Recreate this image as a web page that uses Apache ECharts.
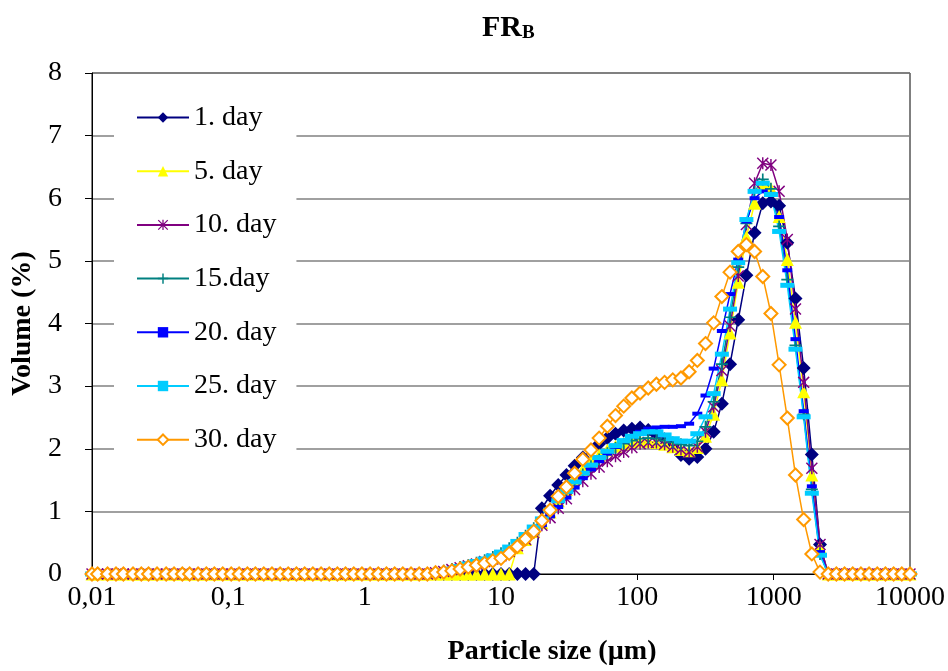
<!DOCTYPE html>
<html>
<head>
<meta charset="utf-8">
<script src="https://cdn.jsdelivr.net/npm/echarts@6/dist/echarts.min.js"></script>
<style>
html,body{margin:0;padding:0;background:#fff;}
#chart{width:948px;height:671px;}
</style>
</head>
<body>
<div id="chart"></div>
<script>
// Particle size classes (µm)
var sizes = [0.010,0.011,0.013,0.015,0.017,0.020,0.023,0.026,0.030,0.035,
0.040,0.046,0.052,0.060,0.069,0.079,0.091,0.105,0.120,0.138,
0.158,0.182,0.209,0.240,0.275,0.316,0.363,0.417,0.479,0.550,
0.631,0.724,0.832,0.955,1.096,1.259,1.445,1.660,1.905,2.188,
2.512,2.884,3.311,3.802,4.365,5.012,5.754,6.607,7.586,8.710,
10.000,11.482,13.183,15.136,17.378,19.953,22.909,26.303,30.200,34.674,
39.811,45.709,52.481,60.256,69.183,79.433,91.201,104.713,120.226,138.038,
158.489,181.970,208.930,239.883,275.423,316.228,363.078,416.869,478.630,549.541,
630.957,724.436,831.764,954.993,1096.478,1258.925,1445.440,1659.587,1905.461,2187.762,
2511.886,2884.032,3311.311,3801.894,4365.158,5011.872,5754.399,6606.934,7585.776,8709.636,
10000.000];

var xTickLabels = ['0,01','0,1','1','10','100','1000','10000'];
var seriesNames = ['1. day','5. day','10. day','15.day','20. day','25. day','30. day'];

var day1 = [0,0,0,0,0,0,0,0,0,0, 0,0,0,0,0,0,0,0,0,0, 0,0,0,0,0,0,0,0,0,0, 0,0,0,0,0,0,0,0,0,0,
0,0,0,0,0,0,0,0,0,0, 0,0,0,0,0,
1.05,1.25,1.42,1.58,1.73,1.86,1.98,2.08,2.17,2.24,
2.29,2.32,2.34,2.30,2.22,2.15,2.05,1.90,1.84,1.87,
2.00,2.27,2.72,3.35,4.06,4.77,5.45,5.92,5.95,5.88,
5.29,4.40,3.29,1.91,0.47,
0,0,0,0,0,0,0,0,0,0,0];

var day5 = [0,0,0,0,0,0,0,0,0,0, 0,0,0,0,0,0,0,0,0,0, 0,0,0,0,0,0,0,0,0,0, 0,0,0,0,0,0,0,0,0,0,
0,0,0,0,0,0,0,0,0,0, 0,0,
0.42,0.55,0.68,0.82,0.99,1.17,1.35,1.52,1.67,1.80,
1.90,1.98,2.04,2.08,2.11,2.12,2.12,2.10,2.07,2.03,
1.99,1.97,2.02,2.20,2.55,3.10,3.85,4.66,5.38,5.92,
6.22,6.15,5.71,5.02,4.02,2.91,1.58,0.43,
0,0,0,0,0,0,0,0,0,0,0];

var day10 = [0,0,0,0,0,0,0,0,0,0, 0,0,0,0,0,0,0,0,0,0, 0,0,0,0,0,0,0,0,0,0, 0,0,0,0,0,0,0,0,0,0, 0,0,
0.02,0.04,0.07,0.10,0.13,0.16,0.20,0.24,0.29,0.36,
0.45,0.55,0.66,0.78,0.90,1.05,1.20,1.35,1.48,1.60,
1.71,1.80,1.88,1.95,2.02,2.08,2.10,2.10,2.07,2.03,
1.99,1.95,2.03,2.27,2.67,3.25,3.96,4.76,5.58,6.24,
6.56,6.53,6.11,5.34,4.23,3.06,1.69,0.47,
0,0,0,0,0,0,0,0,0,0,0];

var day15 = [0,0,0,0,0,0,0,0,0,0, 0,0,0,0,0,0,0,0,0,0, 0,0,0,0,0,0,0,0,0,0, 0,0,0,0,0,0,0,0,0,0, 0,0,
0.03,0.05,0.08,0.11,0.14,0.18,0.22,0.27,0.33,0.41,
0.50,0.61,0.73,0.86,1.00,1.15,1.30,1.45,1.59,1.72,
1.83,1.93,2.01,2.08,2.13,2.16,2.17,2.16,2.13,2.10,
2.07,2.05,2.12,2.35,2.75,3.35,4.10,4.90,5.60,6.10,
6.30,6.15,5.55,4.70,3.65,2.55,1.35,0.32,
0,0,0,0,0,0,0,0,0,0,0];

var day20 = [0,0,0,0,0,0,0,0,0,0, 0,0,0,0,0,0,0,0,0,0, 0,0,0,0,0,0,0,0,0,0, 0,0,0,0,0,0,0,0,0,0, 0,0,
0.02,0.04,0.06,0.09,0.12,0.15,0.19,0.23,0.28,0.35,
0.44,0.54,0.65,0.78,0.92,1.07,1.22,1.38,1.53,1.67,
1.80,1.92,2.03,2.12,2.20,2.27,2.32,2.34,2.35,2.35,
2.36,2.40,2.56,2.85,3.28,3.88,4.47,5.02,5.63,6.00,
6.11,6.07,5.70,4.85,3.75,2.60,1.40,0.35,
0,0,0,0,0,0,0,0,0,0,0];

var day25 = [0,0,0,0,0,0,0,0,0,0, 0,0,0,0,0,0,0,0,0,0, 0,0,0,0,0,0,0,0,0,0, 0,0,0,0,0,0,0,0,0,0, 0,0,
0.03,0.05,0.08,0.12,0.16,0.20,0.24,0.29,0.35,0.43,
0.52,0.63,0.75,0.88,1.02,1.17,1.32,1.47,1.61,1.74,
1.86,1.96,2.05,2.13,2.20,2.24,2.27,2.27,2.22,2.16,
2.12,2.12,2.24,2.51,2.88,3.51,4.23,4.97,5.66,6.11,
6.24,6.06,5.47,4.61,3.59,2.51,1.29,0.30,
0,0,0,0,0,0,0,0,0,0,0];

var day30 = [0,0,0,0,0,0,0,0,0,0, 0,0,0,0,0,0,0,0,0,0, 0,0,0,0,0,0,0,0,0,0, 0,0,0,0,0,0,0,0,0,0, 0,0,
0.02,0.03,0.05,0.08,0.11,0.14,0.17,0.21,0.25,0.33,
0.44,0.56,0.68,0.85,1.02,1.24,1.39,1.61,1.83,1.98,
2.17,2.36,2.53,2.68,2.81,2.89,2.97,3.03,3.06,3.10,
3.13,3.23,3.41,3.68,4.01,4.43,4.82,5.15,5.26,5.15,
4.75,4.16,3.34,2.49,1.58,0.87,0.32,0.03,
0,0,0,0,0,0,0,0,0,0,0];

var FONT = 'Liberation Serif, Times New Roman, serif';
var starPath = 'path://M4.4,0 L5.6,0 L5.6,10 L4.4,10 Z M0,0.85 L0.85,0 L10,9.15 L9.15,10 Z M10,0.85 L0.85,10 L0,9.15 L9.15,0 Z';
var plusPath = 'path://M4.3,0 L5.7,0 L5.7,10 L4.3,10 Z M0,4.3 L10,4.3 L10,5.7 L0,5.7 Z';

function pairs(vals){ return sizes.map(function(s,i){ return [s, vals[i]]; }); }

var styles = [
  {data: day1,  color:'#000080', symbol:'diamond',       size:14},
  {data: day5,  color:'#FFFF00', symbol:'triangle',      size:13},
  {data: day10, color:'#800080', symbol:starPath,        size:12},
  {data: day15, color:'#008080', symbol:plusPath,        size:12},
  {data: day20, color:'#0000FF', symbol:'rect',          size:[10,4]},
  {data: day25, color:'#00CCFF', symbol:'rect',          size:[14,5]},
  {data: day30, color:'#FF9900', symbol:'emptyDiamond',  size:13}
];

var series = styles.map(function(st, k){
  return {
    name: seriesNames[k],
    type: 'line',
    data: pairs(st.data),
    symbol: st.symbol,
    symbolSize: st.size,
    showAllSymbol: true,
    lineStyle: {color: st.color, width: 1.5},
    itemStyle: {color: st.color, borderWidth: st.symbol === 'emptyDiamond' ? 1.8 : 0, borderColor: st.color},
    emphasis: {disabled: true},
    animation: false
  };
});

var chart = echarts.init(document.getElementById('chart'), null, {renderer:'canvas'});
chart.setOption({
  backgroundColor: '#fff',
  animation: false,
  title: {
    text: '{a|FR}{b|B}',
    left: 477, top: 4,
    textStyle: {
      rich: {
        a: {fontFamily: FONT, fontWeight: 'bold', fontSize: 30, color:'#000', verticalAlign:'bottom', lineHeight: 34},
        b: {fontFamily: FONT, fontWeight: 'bold', fontSize: 19, color:'#000', verticalAlign:'bottom', lineHeight: 34, padding:[10,0,0,0]}
      }
    }
  },
  legend: {
    orient: 'vertical',
    left: 114, top: 91,
    padding: [12, 20, 12, 22],
    backgroundColor: '#fff',
    itemWidth: 52, itemHeight: 13,
    itemGap: 24.7,
    textStyle: {fontFamily: FONT, fontSize: 28, color: '#000', lineHeight: 29},
    data: seriesNames
  },
  grid: {left: 92, right: 38, top: 73, bottom: 95, show: true, borderColor: '#000', borderWidth: 1, backgroundColor: 'transparent'},
  xAxis: {
    type: 'log', logBase: 10, min: 0.01, max: 10000,
    name: 'Particle size (µm)', nameLocation: 'middle', nameGap: 64,
    nameTextStyle: {fontFamily: FONT, fontWeight: 'bold', fontSize: 28, color: '#000', padding: [0,0,0,102]},
    axisLine: {lineStyle: {color: '#000', width: 1}},
    axisTick: {show: true, inside: false, length: 6, lineStyle: {color: '#000'}},
    minorTick: {show: false},
    splitLine: {show: false},
    axisLabel: {
      margin: 10, fontFamily: FONT, fontSize: 28, color: '#000',
      formatter: function(v){ var e = Math.round(Math.log10(v)); return xTickLabels[e + 2] || ''; }
    }
  },
  yAxis: {
    type: 'value', min: 0, max: 8, interval: 1,
    name: 'Volume (%)', nameLocation: 'middle', nameGap: 50,
    nameTextStyle: {fontFamily: FONT, fontWeight: 'bold', fontSize: 28, color: '#000'},
    axisLine: {show: true, lineStyle: {color: '#000', width: 1}},
    axisTick: {show: true, inside: false, length: 7, lineStyle: {color: '#000'}},
    splitLine: {show: true, lineStyle: {color: '#808080', width: 1.5}},
    axisLabel: {margin: 30, fontFamily: FONT, fontSize: 28, color: '#000'}
  },
  series: series
});
</script>
</body>
</html>
